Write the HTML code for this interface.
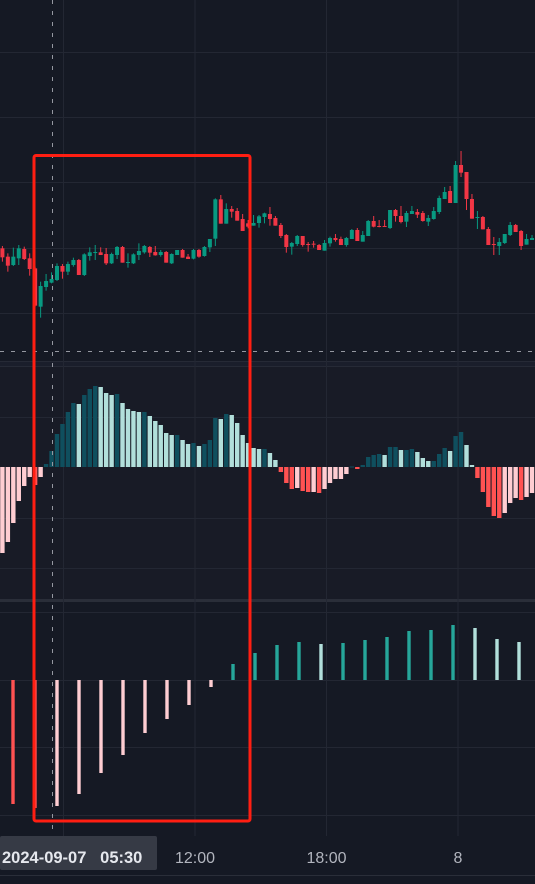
<!DOCTYPE html>
<html><head><meta charset="utf-8"><style>
html,body{margin:0;padding:0;background:#161a25;}
svg{display:block;font-family:"Liberation Sans",sans-serif;}
</style></head><body>
<svg id="chart" width="535" height="884" viewBox="0 0 535 884" xmlns="http://www.w3.org/2000/svg">
<rect x="0" y="0" width="535" height="884" fill="#151924"/>
<rect x="0" y="367" width="535" height="233" fill="#181b26"/>
<rect x="0" y="361" width="535" height="6" fill="#1a1e2b"/>
<line x1="0" y1="361.5" x2="535" y2="361.5" stroke="#262a36"/>
<line x1="0" y1="366.5" x2="535" y2="366.5" stroke="#262a36"/>
<rect x="0" y="599" width="535" height="3" fill="#2a2e39"/>
<g id="grid"></g>
<g id="candles"></g>
<g id="hist"></g>
<g id="osc"></g>
<g stroke="#9598a1" stroke-width="1" stroke-dasharray="4 7">
<line x1="52.5" y1="0" x2="52.5" y2="836"/>
<line x1="0" y1="351.5" x2="535" y2="351.5"/>
</g>
<rect x="34" y="155.5" width="216" height="665.5" rx="2" fill="none" stroke="#ff1e12" stroke-width="3"/>
<line x1="0" y1="875.5" x2="535" y2="875.5" stroke="#2a2e39"/>
<g id="taxis"></g>
<rect x="0" y="836" width="157" height="34" rx="2" fill="#363a45"/>
<text x="2" y="863" font-size="16.5" font-weight="bold" fill="#e6e8ee" xml:space="preserve">2024-09-07   05:30</text>
</svg>
<script>
const opens=[275,250,225,245,273,245,215,100,159,172,180,222,205,225,240,195,252,261,263,258,230,255,279,231,230,255,263,279,264,255,264,230,255,270,250,244,270,252,278,304,422,349,393,387,363,350,343,351,369,378,366,345,315,280,288,312,288,289,285,268,290,306,303,285,303,330,295,312,357,342,342,336,390,372,355,378,384,381,355,363,384,423,447,411,525,504,423,367,369,333,288,282,291,315,345,327,286,300];
const highs=[282,260,277,285,280,260,220,175,198,203,230,228,235,247,243,260,278,285,278,276,262,282,282,260,260,290,285,282,282,270,267,260,270,273,258,273,273,282,303,425,435,410,402,396,378,360,375,375,382,399,372,351,318,294,315,312,294,297,288,300,310,318,310,309,333,336,327,360,372,360,360,390,393,402,387,402,393,387,375,399,433,459,462,537,567,504,438,387,372,339,309,306,318,354,348,330,318,315];
const lows=[235,205,222,225,240,193,100,67,148,170,177,184,195,220,195,192,238,240,255,225,228,243,232,217,228,240,259,249,253,250,232,228,255,247,243,242,247,250,264,282,349,349,367,358,327,335,343,337,350,343,343,306,262,256,282,280,265,277,270,268,280,295,285,280,303,297,295,312,338,338,340,333,355,350,339,378,366,355,342,361,378,423,411,411,489,390,364,333,332,285,255,255,288,312,324,270,286,300];
const closes=[248,223,250,275,243,213,103,162,177,183,222,205,228,240,195,257,263,264,255,230,258,279,232,234,257,267,282,262,254,264,232,258,270,247,243,270,250,279,303,422,349,393,385,358,327,340,351,371,380,363,343,312,279,291,312,285,287,286,270,291,306,300,285,306,330,297,315,357,340,339,340,390,372,354,381,387,376,357,366,387,426,444,411,525,502,423,364,369,332,285,286,294,318,345,324,282,303,306];
const histValues=[-86,-75,-56,-34,-19,-10,-18,-10,3,16,33,43,55,64,63,72,78,81,80,74,72,73,64,58,56,55,55,51,46,42,34,32,32,27,23,24,21,23,27,49,48,53,52,44,32,24,19,18,18,14,7,-5,-16,-22,-21,-24,-25,-25,-26,-22,-16,-12,-12,-7,0.5,-2,2,10,12,13,12,20,20,17,17,18,15,9,6,6,13,19,16,31,35,22,2,-11,-25,-40,-49,-51,-46,-36,-31,-33,-30,-26];
const oscValues=[-124,-128,-126,-114,-93,-75,-53,-39,-25,-7,16,27,35,38,36,37,40,43,49,50,55,52,41,38];
const timeLabels=["12:00","18:00","8"];

const NS="http://www.w3.org/2000/svg";
function mk(tag,attrs,parent){const e=document.createElementNS(NS,tag);for(const k in attrs)e.setAttribute(k,attrs[k]);parent.appendChild(e);return e;}
const step=5.46, x0=2.4;
const xAt=i=>x0+i*step;
const yPrice=p=>140+(600-p)/3;
const yHist=v=>467-v;
const yOsc=v=>680-v;
const oscX=j=>13+j*22;

const grid=document.getElementById('grid');
[52,117,182,248,313].forEach(y=>{const l=mk('line',{x1:0,y1:y+.5,x2:535,y2:y+.5,stroke:'#232733'},grid);});
[417,518,568].forEach(y=>{const l=mk('line',{x1:0,y1:y+.5,x2:535,y2:y+.5,stroke:'#232733'},grid);});
[612,680,747,815].forEach(y=>{const l=mk('line',{x1:0,y1:y+.5,x2:535,y2:y+.5,stroke:'#232733'},grid);});
[63.5,195,326.5,458].forEach(x=>{const l=mk('line',{x1:x,y1:0,x2:x,y2:836,stroke:'#232733'},grid);});

const cg=document.getElementById('candles');
for(let i=0;i<opens.length;i++){
  const up=closes[i]>=opens[i];const col=up?'#089981':'#f23645';const x=xAt(i);
  const w=mk('line',{x1:x,y1:yPrice(highs[i]),x2:x,y2:yPrice(lows[i]),stroke:col,'stroke-width':1},cg);
  
  
  const top=yPrice(Math.max(opens[i],closes[i])),bot=yPrice(Math.min(opens[i],closes[i]));
  const b=mk('rect',{x:x-2,y:top,width:4,height:Math.max(1,bot-top),fill:col},cg);
  
  
}
const hg=document.getElementById('hist');
for(let i=0;i<histValues.length;i++){
  const v=histValues[i],p=i>0?histValues[i-1]:v;let col;
  if(v>=0)col=v>=p?'#0f4f5e':'#b2dfdb';else col=v<p?'#ff5252':'#ffcdd2';
  if(i===0)col='#ffcdd2';
  const y1=Math.min(yHist(v),467),h=Math.abs(v);
  const r=mk('rect',{x:xAt(i)-2.2,y:y1,width:4.4,height:Math.max(1,h),fill:col},hg);
  
  
}
const og=document.getElementById('osc');
for(let j=0;j<oscValues.length;j++){
  const v=oscValues[j],p=j>0?oscValues[j-1]:v;let col;
  if(v>=0)col=v>=p?'#26a69a':'#b2dfdb';else col=(j===0||v<p)?'#ff5252':'#ffcdd2';
  const y1=Math.min(yOsc(v),680);
  const r=mk('rect',{x:oscX(j)-1.7,y:y1,width:3.4,height:Math.abs(v),fill:col},og);
  
  
}
const ta=document.getElementById('taxis');
timeLabels.forEach((t,k)=>{
  const x=[195,326.5,458][k];
  const e=mk('text',{x:x,y:863,'text-anchor':'middle','font-size':16,fill:'#b2b5be'},ta);
  e.textContent=t;
  
  
});
</script>
</body></html>
